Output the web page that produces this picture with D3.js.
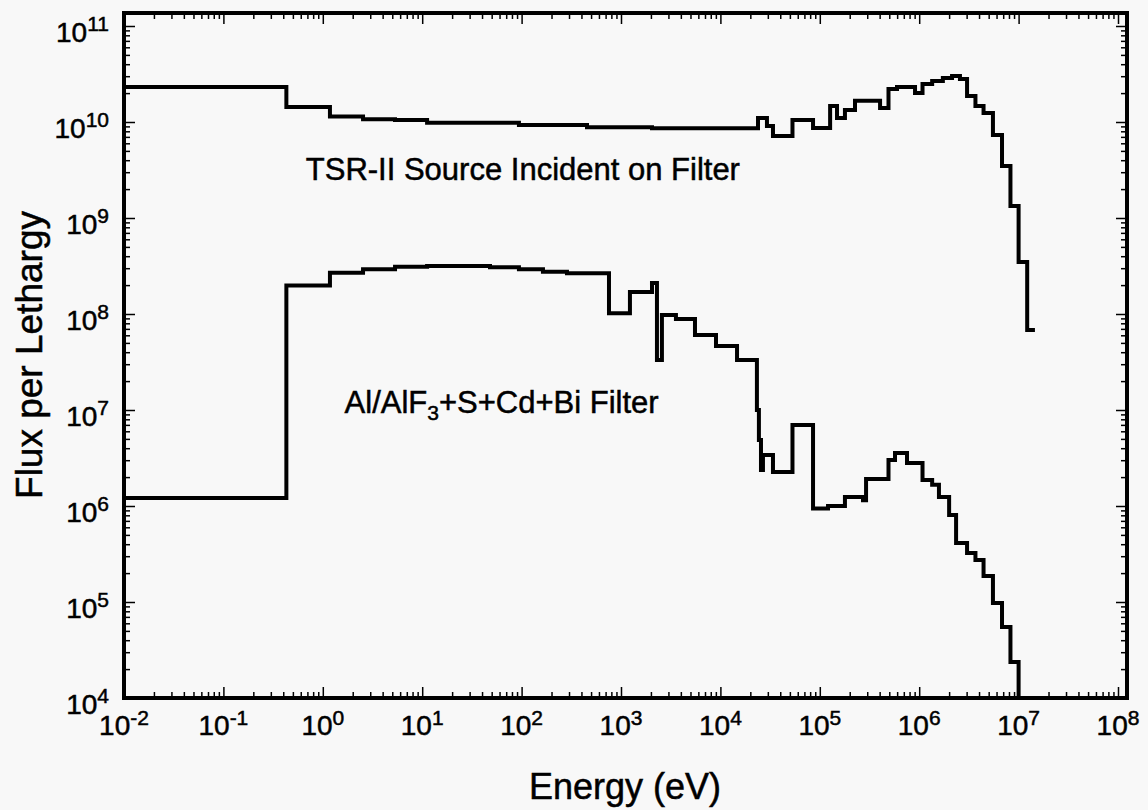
<!DOCTYPE html>
<html>
<head>
<meta charset="utf-8">
<script src="https://cdn.jsdelivr.net/npm/d3@7"></script>
<style>
  body { margin: 0; background: #f8f8f8; }
  svg { display: block; font-family: "Liberation Sans", Arial, sans-serif; }
  svg text { fill: #000; stroke: #000; stroke-width: 0.5; }
  .tick line { stroke: #000; }
</style>
</head>
<body>
<svg id="chart" width="1148" height="810"></svg>
<script>
// histogram bin edges (eV) and flux per lethargy
const sourceEdges = [0.01, 0.43, 1.18, 2.54, 5.33, 11.2, 94, 455, 2050, 23900,
    29400, 33800, 53100, 85500, 1.27e5, 1.49e5, 1.79e5, 2.26e5, 4.04e5, 4.91e5,
    5.98e5, 9.08e5, 1.08e6, 1.35e6, 1.73e6, 2.14e6, 2.57e6, 3.03e6, 3.68e6, 4.44e6,
    5.52e6, 6.81e6, 8.28e6, 1.0e7, 1.22e7, 1.46e7];
const sourceFlux = [2.32e10, 1.43e10, 1.14e10, 1.07e10, 1.05e10, 9.84e9, 9.31e9, 8.81e9, 8.6e9,
    1.10e10, 9.09e9, 7.15e9, 1.05e10, 8.66e9, 1.47e10, 1.10e10, 1.33e10, 1.66e10, 1.40e10,
    2.21e10, 2.32e10, 2.0e10, 2.49e10, 2.67e10, 2.87e10, 3.02e10, 2.80e10, 1.87e10, 1.47e10,
    1.24e10, 7.33e9, 3.48e9, 1.33e9, 3.48e8, 6.81e7];

const filterEdges = [0.01, 0.43, 1.18, 2.54, 5.33, 11.2, 48.1, 94, 164, 286, 757, 1230,
    2050, 2300, 2580, 3570, 5550, 9030, 14700, 23300, 24400, 25600, 26800, 33800, 53100,
    85500, 1.21e5, 1.79e5, 2.72e5, 2.92e5, 4.91e5, 5.71e5, 7.54e5, 1.08e6, 1.35e6, 1.58e6,
    2.0e6, 2.35e6, 3.03e6, 3.68e6, 4.44e6, 5.52e6, 6.81e6, 8.28e6, 1.0e7];
const filterFlux = [1.21e6, 1.98e8, 2.69e8, 2.92e8, 3.11e8, 3.16e8, 3.06e8, 2.92e8, 2.76e8,
    2.65e8, 1.02e8, 1.69e8, 2.10e8, 3.32e7, 9.77e7, 8.87e7, 6.04e7, 4.64e7, 3.32e7, 1.0e7,
    4.87e6, 2.37e6, 3.40e6, 2.26e6, 6.98e6, 9.42e5, 1.0e6, 1.24e6, 1.15e6, 1.91e6, 3.01e6,
    3.56e6, 2.81e6, 1.87e6, 1.66e6, 1.24e6, 8.06e5, 4.12e5, 3.24e5, 2.74e5, 1.87e5, 9.77e4,
    5.49e4, 2.37e4];

const xExponents = [-2, -1, 0, 1, 2, 3, 4, 5, 6, 7, 8];
const yExponents = [4, 5, 6, 7, 8, 9, 10, 11];

const xTitle = 'Energy (eV)';
const yTitle = 'Flux per Lethargy';

// annotation anchors in data units (centre of text, baseline)
const notes = [
    { parts: [['TSR-II Source Incident on Filter', 0]], energy: 103, flux: 2.5e9 },
    { parts: [['Al/AlF', 0], ['3', 1], ['+S+Cd+Bi Filter', 0]], energy: 63, flux: 9.3e6 }
];

const svg = d3.select('#chart');
const frame = { left: 124, right: 1127, top: 13, bottom: 698 };

const x = d3.scaleLog().domain([1e-2, 1e8]).range([124, 1118]);
const y = d3.scaleLog().domain([1e4, 1e11]).range([698, 26]);

const xMajor = xExponents.map(e => Math.pow(10, e));
const yMajor = yExponents.map(e => Math.pow(10, e));
const minorOf = exps => exps.slice(0, -1).flatMap(e => d3.range(2, 10).map(k => k * Math.pow(10, e)));
const xMinor = minorOf(xExponents);
const yMinor = minorOf(yExponents);

function drawTicks(axisFn, scale, translate, major, minor) {
    [[minor, 6], [major, 11]].forEach(([vals, len]) => {
        const g = svg.append('g')
            .attr('transform', translate)
            .call(axisFn(scale).tickValues(vals).tickSize(-len).tickFormat(''));
        g.select('.domain').remove();
        g.selectAll('.tick line').attr('stroke-width', 1.5);
    });
}

drawTicks(d3.axisBottom, x, `translate(0,${frame.bottom})`, xMajor, xMinor);
drawTicks(d3.axisTop, x, `translate(0,${frame.top})`, xMajor, xMinor);
drawTicks(d3.axisLeft, y, `translate(${frame.left},0)`, yMajor, yMinor);
drawTicks(d3.axisRight, y, `translate(${frame.right},0)`, yMajor, yMinor);

svg.append('rect')
    .attr('x', frame.left).attr('y', frame.top)
    .attr('width', frame.right - frame.left)
    .attr('height', frame.bottom - frame.top)
    .attr('fill', 'none').attr('stroke', '#000').attr('stroke-width', 4);

// tick labels with superscript exponents
const xLab = svg.append('g').selectAll('text')
    .data(xExponents).enter().append('text')
    .attr('x', d => x(Math.pow(10, d)))
    .attr('y', frame.bottom + 37)
    .attr('text-anchor', 'middle')
    .attr('font-size', 28);
xLab.append('tspan').text('10');
xLab.append('tspan').attr('dy', -10).attr('font-size', 21).text(d => d);

const yLab = svg.append('g').selectAll('text')
    .data(yExponents).enter().append('text')
    .attr('x', 109)
    .attr('y', d => y(Math.pow(10, d)) + 16)
    .attr('text-anchor', 'end')
    .attr('font-size', 28);
yLab.append('tspan').text('10');
yLab.append('tspan').attr('dy', -11).attr('font-size', 21).text(d => d);

svg.append('text')
    .attr('x', 625).attr('y', 799)
    .attr('text-anchor', 'middle')
    .attr('font-size', 36)
    .text(xTitle);

svg.append('text')
    .attr('transform', 'translate(42,355) rotate(-90)')
    .attr('text-anchor', 'middle')
    .attr('font-size', 37)
    .text(yTitle);

// step histograms
function stepPoints(edges, vals, floor) {
    const pts = vals.map((v, i) => [edges[i], v]);
    pts.push([edges[edges.length - 1], vals[vals.length - 1]]);
    if (floor) pts.push([edges[edges.length - 1], floor]);
    return pts;
}

const line = d3.line()
    .x(d => x(d[0]))
    .y(d => y(d[1]))
    .curve(d3.curveStepAfter);

svg.append('path')
    .datum(stepPoints(sourceEdges, sourceFlux))
    .attr('d', line)
    .attr('fill', 'none').attr('stroke', '#000')
    .attr('stroke-width', 4).attr('stroke-linejoin', 'miter');

svg.append('path')
    .datum(stepPoints(filterEdges, filterFlux, 1e4))
    .attr('d', line)
    .attr('fill', 'none').attr('stroke', '#000')
    .attr('stroke-width', 4).attr('stroke-linejoin', 'miter');

// annotations
notes.forEach(n => {
    const t = svg.append('text')
        .attr('x', x(n.energy))
        .attr('y', y(n.flux))
        .attr('text-anchor', 'middle')
        .attr('font-size', 31);
    let shift = 0;
    n.parts.forEach(([s, sub]) => {
        const dy = sub ? 7 : 0;
        t.append('tspan')
            .attr('dy', dy - shift)
            .attr('font-size', sub ? 21 : 31)
            .text(s);
        shift = dy;
    });
});
</script>
</body>
</html>
